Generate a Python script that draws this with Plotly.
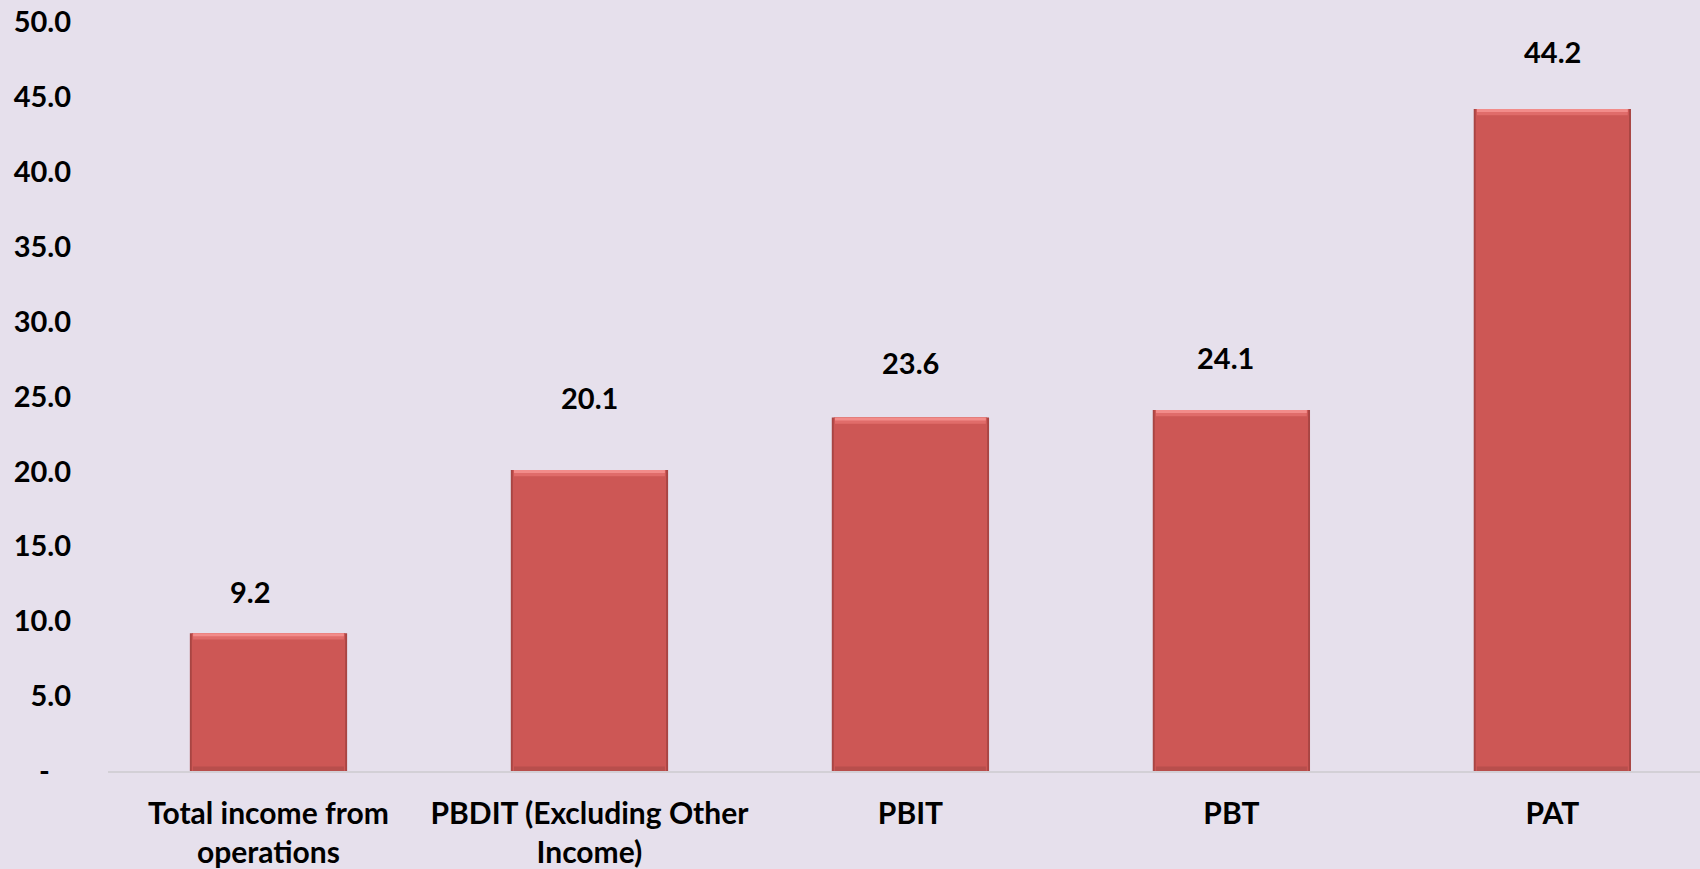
import plotly.graph_objects as go

# ---- data ----
categories = ["Total income from<br>operations", "PBDIT (Excluding Other<br>Income)", "PBIT", "PBT", "PAT"]
values = [9.2, 20.1, 23.6, 24.1, 44.2]
value_labels = ["9.2", "20.1", "23.6", "24.1", "44.2"]
y_tickvals = [0, 5, 10, 15, 20, 25, 30, 35, 40, 45, 50]
y_ticktext = ["-\u00a0\u00a0\u00a0", "5.0", "10.0", "15.0", "20.0", "25.0", "30.0", "35.0", "40.0", "45.0", "50.0"]

# ---- style ----
label_yshift = [42, 72, 55, 52, 57]
label_xshift = [-18, 0, 0, -6, 0]
BG = "#E6E0EC"
FONT = "Lato"
x_pos = list(range(len(categories)))
n = len(values)

fig = go.Figure()
# dark outline / edge
fig.add_trace(go.Bar(x=x_pos, y=values, width=0.49, marker=dict(color="#A84543", line=dict(width=0)),
                     hoverinfo="skip", showlegend=False))
# main face
fig.add_trace(go.Bar(x=x_pos, y=values, width=0.478, marker=dict(color="#CD5755", line=dict(width=0)),
                     hoverinfo="x+y", showlegend=False))
# top bevel, lower band
hl = 0.42
fig.add_trace(go.Bar(x=x_pos, y=[hl] * n, base=[v - hl for v in values], width=0.47,
                     marker=dict(color="#E06C6A", line=dict(width=0)), hoverinfo="skip", showlegend=False))
# top bevel, upper bright band
hl2 = 0.2
fig.add_trace(go.Bar(x=x_pos, y=[hl2] * n, base=[v - hl2 for v in values], width=0.47,
                     marker=dict(color="#F28C8A", line=dict(width=0)), hoverinfo="skip", showlegend=False))
# bottom shade (bevel)
sh = 0.3
fig.add_trace(go.Bar(x=x_pos, y=[sh] * n, base=[0] * n, width=0.47,
                     marker=dict(color="#B84E4C", line=dict(width=0)), hoverinfo="skip", showlegend=False))

for i, (v, t) in enumerate(zip(values, value_labels)):
    fig.add_annotation(x=x_pos[i], y=v, text=t, showarrow=False, yanchor="middle",
                       yshift=label_yshift[i], xshift=label_xshift[i],
                       font=dict(family=FONT, size=29, color="#000000", weight="bold"))

fig.update_layout(
    width=1700, height=869,
    paper_bgcolor=BG, plot_bgcolor=BG,
    barmode="overlay",
    margin=dict(l=108, r=0, t=22, b=96),
    font=dict(family=FONT, size=29, color="#000000", weight="bold"),
    showlegend=False,
)
fig.update_xaxes(
    tickmode="array", tickvals=x_pos, ticktext=categories,
    range=[-0.5, 4.46], showgrid=False, zeroline=False,
    showline=True, linecolor="#D3D0D6", linewidth=2,
    ticks="", ticklabelstandoff=15,
    tickfont=dict(family=FONT, size=30, color="#000000", weight="bold"),
)
fig.update_yaxes(
    range=[0, 50], tickmode="array", tickvals=y_tickvals, ticktext=y_ticktext,
    showgrid=False, zeroline=False, showline=False, ticks="",
    ticklabelstandoff=36,
    tickfont=dict(family=FONT, size=29, color="#000000", weight="bold"),
)

fig.write_html("out.html", config={"displayModeBar": False},
               post_script="document.body.style.margin='0';document.body.style.overflow='hidden';")
